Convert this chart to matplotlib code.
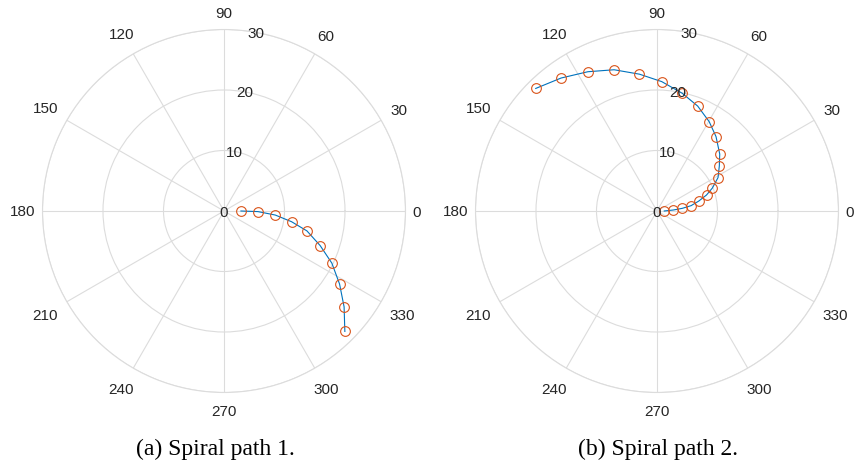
import numpy as np
import matplotlib
matplotlib.use("Agg")
import matplotlib.pyplot as plt

# spiral 1 (angles in degrees, radius)
theta1 = [0, -1, -4.5, -9, -13.5, -19.8, -25.8, -32.3, -38.6, -44.9]
r1 = [2.8, 5.6, 8.5, 11.3, 14.1, 16.9, 19.8, 22.6, 25.4, 28.2]

# spiral 2
theta2 = [0, 3.5, 6, 8.9, 13.4, 17.9, 22.5, 28.7, 35.8, 42.2,
          51.6, 59.7, 68.8, 77.9, 87.9, 97.3, 106.9, 116.4, 125.8, 134.7]
r2 = [1.2, 2.7, 4.2, 5.7, 7.1, 8.6, 9.9, 11.5, 12.7, 14.0,
      15.7, 17.1, 18.6, 19.9, 21.4, 22.8, 24.4, 25.7, 27.1, 28.5]

rticks = [0, 10, 20, 30]
angles = list(range(0, 360, 30))
captions = ["(a) Spiral path 1.", "(b) Spiral path 2."]

plt.rcParams['font.family'] = ['Liberation Sans', 'DejaVu Sans']
plt.rcParams['font.size'] = 11

grid_c = "#dcdcdc"
text_c = "#262626"
line_c = "#0072BD"
mark_c = "#D95319"

fig = plt.figure(figsize=(8.55, 4.63), dpi=100)

lefts = [42.5/855, 475.5/855]
cap_x = [215.5/855, 657.5/855]
data = [(theta1, r1), (theta2, r2)]
digit_w = 8.6   # px per digit at 11pt
digit_h = 10.0
gx, gy = 7.0, 12.5
for i in range(2):
    ax = fig.add_axes([lefts[i], 70.5/463, 363/855, 363/463], projection='polar')
    th, r = data[i]
    th = np.deg2rad(th)
    ax.plot(th, r, color=line_c, lw=0.8, zorder=3)
    ax.plot(th, r, 'o', mfc='none', mec=mark_c, ms=7, mew=0.8, zorder=4)
    ax.set_ylim(0, 30)
    ax.set_yticks(rticks)
    ax.set_yticklabels([])
    for rv in rticks:
        ax.text(np.deg2rad(80), rv, str(rv), ha='center', va='center_baseline',
                color=text_c, fontsize=11, zorder=6)
    ax.set_thetagrids(angles, [''] * len(angles))
    ax.tick_params(axis='x', pad=0)
    # angle labels placed just outside the rim
    for a in angles:
        lab = str(a)
        t = np.deg2rad(a)
        c, s = np.cos(t), np.sin(t)
        dist = (gx * abs(c) + gy * abs(s) - 1.5 * abs(np.sin(2 * t))
                + len(lab) * digit_w / 2 * abs(c) + digit_h / 2 * abs(s))
        ax.annotate(lab, xy=(t, 30), xytext=(dist * c, dist * s),
                    textcoords='offset pixels', ha='center', va='center_baseline',
                    color=text_c, fontsize=11, annotation_clip=False)
    ax.grid(True, color=grid_c, lw=0.8)
    ax.spines['polar'].set_color(grid_c)
    ax.spines['polar'].set_linewidth(0.8)
    fig.text(cap_x[i], 1 - 449/463, captions[i],
             ha='center', va='center', fontsize=17,
             family=['Liberation Serif', 'DejaVu Serif'], color='black')

fig.savefig("out.png", dpi=100)
